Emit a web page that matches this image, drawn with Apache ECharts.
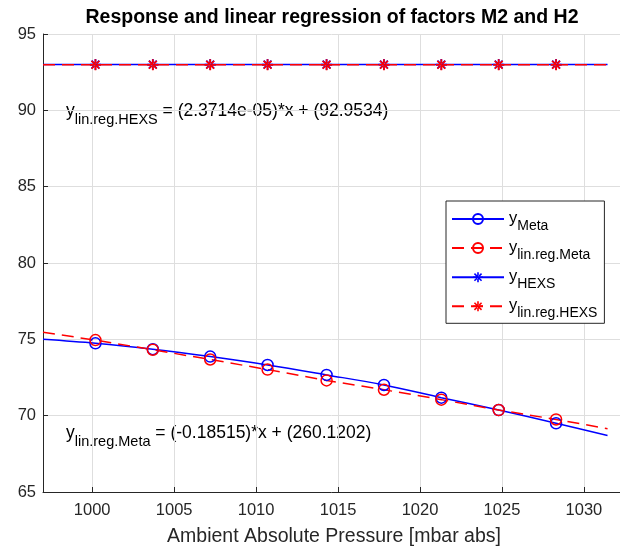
<!DOCTYPE html>
<html>
<head>
<meta charset="utf-8">
<style>
html,body{margin:0;padding:0;background:#fff;}
#chart{width:620px;height:548px;}
</style>
<script src="https://cdn.jsdelivr.net/npm/echarts@6/dist/echarts.min.js"></script>
</head>
<body>
<div id="chart"></div>
<script>
// ---- data ----
const xPressure = [1000.2, 1003.7, 1007.2, 1010.7, 1014.3, 1017.8, 1021.3, 1024.8, 1028.3];
const yMeta = [74.74, 74.35, 73.87, 73.32, 72.67, 72.01, 71.18, 70.37, 69.50];
const yLinRegMeta = [74.95, 74.32, 73.68, 73.02, 72.31, 71.70, 71.05, 70.37, 69.75];
const yHEXS = [93.0, 93.0, 93.0, 93.0, 93.0, 93.0, 93.0, 93.0, 93.0];
const yLinRegHEXS = [92.98, 92.98, 92.98, 92.98, 92.98, 92.98, 92.98, 92.98, 92.98];
// curve ends (lines run over the whole plotted range)
const xLineEnds = [997, 1031.44];
const yMetaEnds = [75.0, 68.7];
const yLinRegMetaEnds = [75.46, 69.15];
const yHEXSEnds = [93.0, 93.0];
const yLinRegHEXSEnds = [92.98, 92.98];
// axes
const xRange = [997, 1032.2];
const yRange = [65, 95];
const yStep = 5;
const seriesNames = ['yMeta', 'yLinRegMeta', 'yHEXS', 'yLinRegHEXS'];
const seriesSubs = ['Meta', 'lin.reg.Meta', 'HEXS', 'lin.reg.HEXS'];
const titleText = 'Response and linear regression of factors M2 and H2';
const xAxisName = 'Ambient Absolute Pressure [mbar abs]';
const annHEXS = ['y', 'lin.reg.HEXS', ' = (2.3714e-05)*x + (92.9534)'];
const annMeta = ['y', 'lin.reg.Meta', ' = (-0.18515)*x + (260.1202)'];

const FONT = "'Liberation Sans', Arial, Helvetica, sans-serif";
const BLUE = '#0000ff', RED = '#ff0000', AX = '#262626';
const ASTER = 'path://M-0.8,-5 L0.8,-5 L0.8,5 L-0.8,5 Z M-5,-0.8 L5,-0.8 L5,0.8 L-5,0.8 Z ' +
  'M3.0,4.1 L-4.1,-3.0 L-3.0,-4.1 L4.1,3.0 Z M-4.1,3.0 L-3.0,4.1 L4.1,-3.0 L3.0,-4.1 Z';

function build(ys, ends) {
  const d = [{ value: [xLineEnds[0], ends[0]], symbol: 'none' }];
  xPressure.forEach((x, i) => d.push([x, ys[i]]));
  d.push({ value: [xLineEnds[1], ends[1]], symbol: 'none' });
  return d;
}

function circleSeries(name, color, ys, ends, dashed, smooth) {
  return {
    name: name, type: 'line', data: build(ys, ends), smooth: smooth,
    symbol: 'circle', symbolSize: 11, showAllSymbol: true,
    itemStyle: { color: 'rgba(0,0,0,0)', borderColor: color, borderWidth: 1.5 },
    lineStyle: { color: color, width: 1.5, type: dashed ? [12, 7] : 'solid' },
    emphasis: { disabled: true }
  };
}
function starSeries(name, color, ys, ends, dashed) {
  return {
    name: name, type: 'line', data: build(ys, ends),
    symbol: ASTER, symbolSize: 11, showAllSymbol: true,
    itemStyle: { color: color },
    lineStyle: { color: color, width: 1.5, type: dashed ? [12, 7] : 'solid' },
    emphasis: { disabled: true }
  };
}

const richAnn = {
  a: { fontFamily: FONT, fontSize: 17.5, lineHeight: 20, verticalAlign: 'top', color: '#000' },
  b: { fontFamily: FONT, fontSize: 14.5, lineHeight: 16, padding: [10, 0, 0, 0], verticalAlign: 'top', color: '#000' },
  c: { fontFamily: FONT, fontSize: 17.5, lineHeight: 20, verticalAlign: 'top', color: '#000' }
};
function annText(parts) { return '{a|' + parts[0] + '}{b|' + parts[1] + '}{c|' + parts[2] + '}'; }

const chart = echarts.init(document.getElementById('chart'), null, { renderer: 'canvas' });
chart.setOption({
  animation: false,
  backgroundColor: '#fff',
  grid: { left: 43, top: 34, width: 582, height: 458, containLabel: false },
  xAxis: {
    type: 'value', min: xRange[0], max: xRange[1], splitNumber: 7,
    axisLine: { show: true, onZero: false, lineStyle: { color: AX, width: 1 } },
    axisTick: { show: true, inside: true, length: 5, lineStyle: { color: AX } },
    axisLabel: { showMinLabel: false, showMaxLabel: false, margin: 10, color: AX, fontSize: 16.5, fontFamily: FONT,
      formatter: function (v) { return String(v); } },
    splitLine: { show: true, lineStyle: { color: '#dedede', width: 1 } }
  },
  yAxis: {
    type: 'value', min: yRange[0], max: yRange[1], interval: yStep,
    axisLine: { show: true, onZero: false, lineStyle: { color: AX, width: 1 } },
    axisTick: { show: true, inside: true, length: 5, lineStyle: { color: AX } },
    axisLabel: { margin: 7, color: AX, fontSize: 16.5, fontFamily: FONT },
    splitLine: { show: true, lineStyle: { color: '#dedede', width: 1 } }
  },
  legend: {
    orient: 'vertical', left: 446, top: 201,
    padding: [9, 7, 3, 5], itemGap: 6.1, itemWidth: 52, itemHeight: 12.5,
    backgroundColor: '#fff', borderColor: AX, borderWidth: 1, borderRadius: 0,
    data: seriesNames,
    selectedMode: false,
    formatter: function (n) { return '{a|y}{b|' + seriesSubs[seriesNames.indexOf(n)] + '}'; },
    textStyle: {
      color: '#000', fontFamily: FONT,
      rich: {
        a: { fontFamily: FONT, fontSize: 16.5, lineHeight: 18, verticalAlign: 'top', color: '#000' },
        b: { fontFamily: FONT, fontSize: 14, lineHeight: 16, padding: [9, 0, 0, 0], verticalAlign: 'top', color: '#000' }
      }
    }
  },
  graphic: [
    { type: 'text', x: 332, y: 18, silent: true,
      style: { text: titleText, font: 'bold 19.5px ' + FONT, fill: '#000', align: 'center', verticalAlign: 'middle', textAlign: 'center', textVerticalAlign: 'middle' } },
    { type: 'text', x: 334, y: 537, silent: true,
      style: { text: xAxisName, font: '19.5px ' + FONT, fill: AX, align: 'center', verticalAlign: 'middle', textAlign: 'center', textVerticalAlign: 'middle' } },
    { type: 'text', x: 66, y: 102, silent: true,
      style: { text: annText(annHEXS), rich: richAnn, align: 'left', verticalAlign: 'top' } },
    { type: 'text', x: 66, y: 424, silent: true,
      style: { text: annText(annMeta), rich: richAnn, align: 'left', verticalAlign: 'top' } }
  ],
  series: [
    circleSeries(seriesNames[0], BLUE, yMeta, yMetaEnds, false, 0.35),
    circleSeries(seriesNames[1], RED, yLinRegMeta, yLinRegMetaEnds, true, false),
    starSeries(seriesNames[2], BLUE, yHEXS, yHEXSEnds, false),
    starSeries(seriesNames[3], RED, yLinRegHEXS, yLinRegHEXSEnds, true)
  ]
});
</script>
</body>
</html>
